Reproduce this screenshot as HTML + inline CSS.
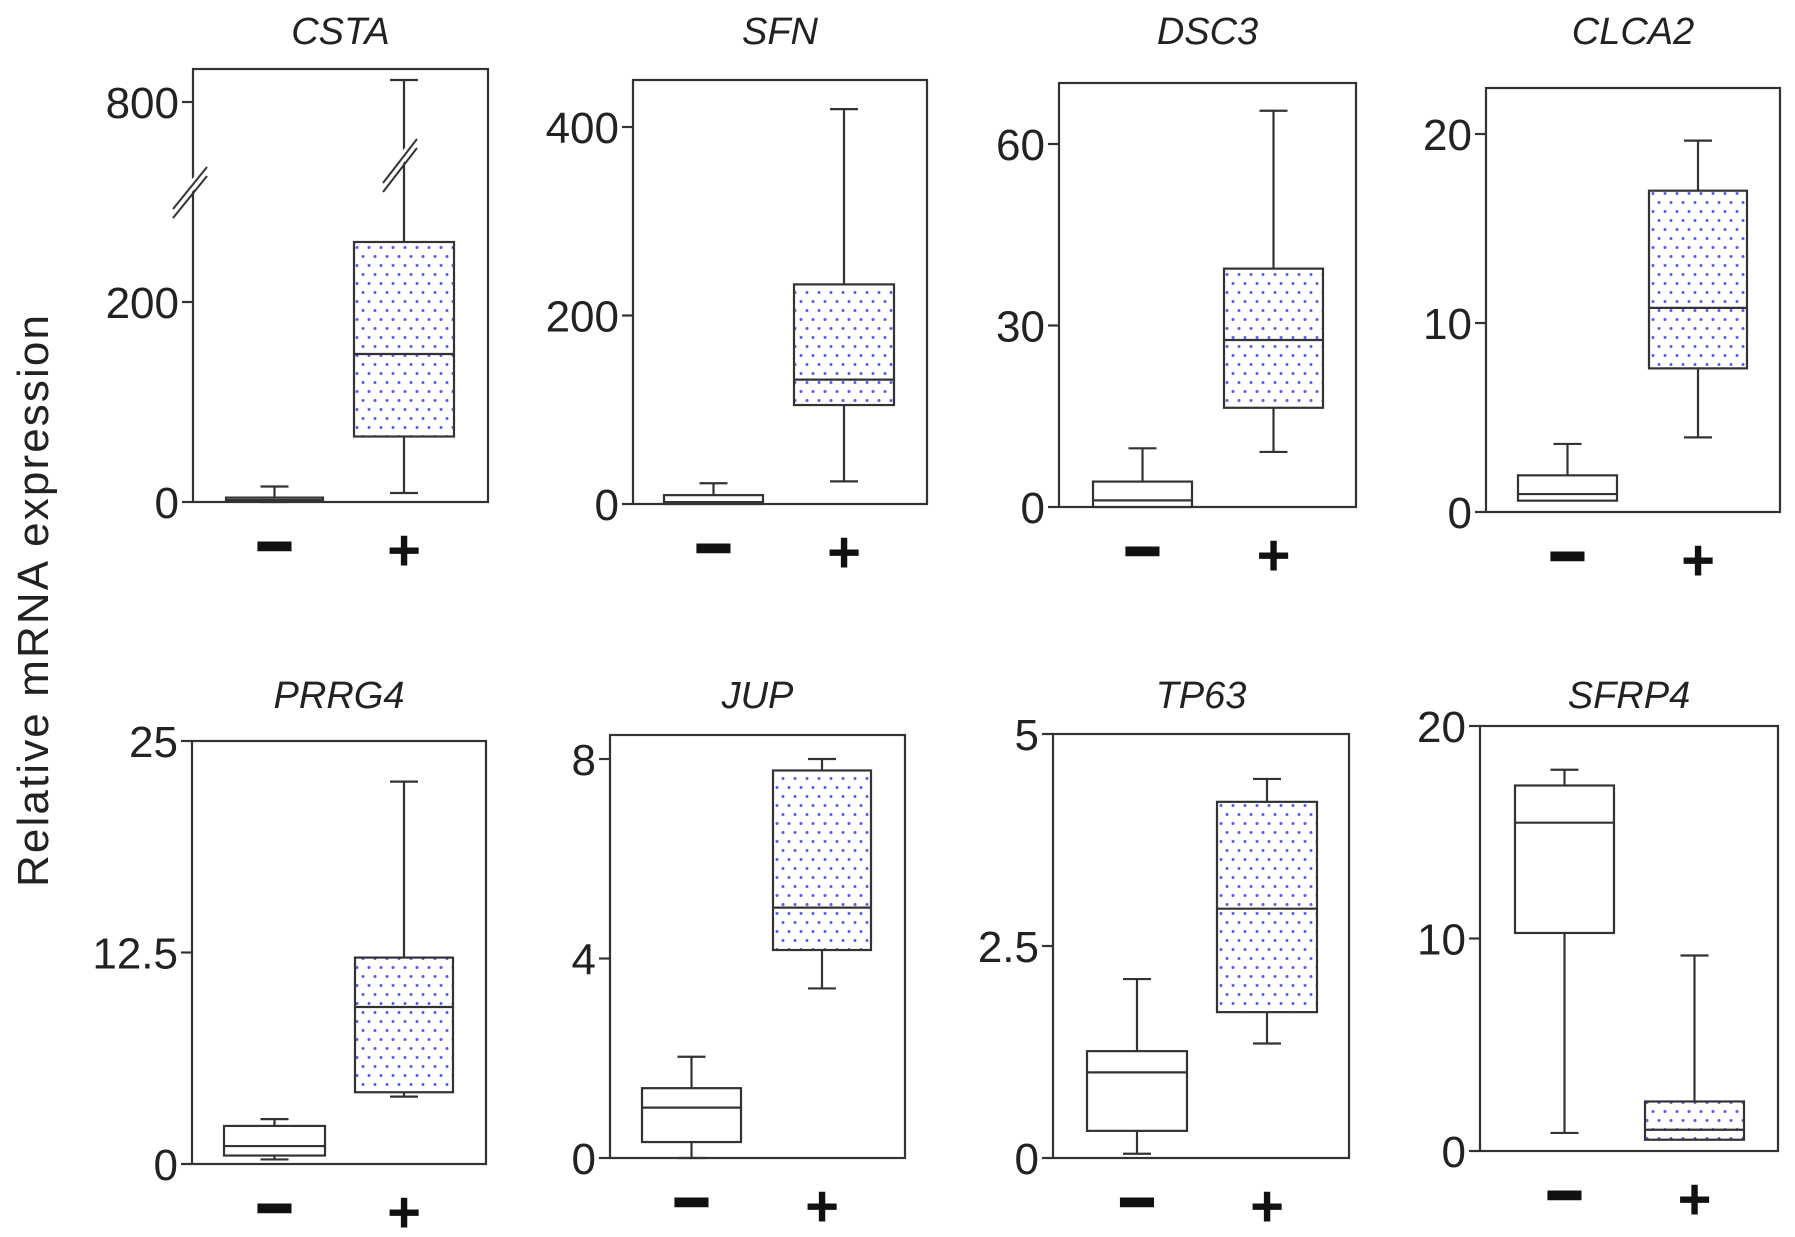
<!DOCTYPE html>
<html><head><meta charset="utf-8">
<style>
html,body{margin:0;padding:0;background:#fff;}
svg{display:block;font-family:"Liberation Sans",Arial,sans-serif;}
</style></head>
<body>
<svg id="chart" width="1795" height="1237" viewBox="0 0 1795 1237" xmlns="http://www.w3.org/2000/svg">
<defs>
<pattern id="dots" width="12" height="18" patternUnits="userSpaceOnUse">
<rect width="12" height="18" fill="#fff"/>
<circle cx="3" cy="4.5" r="1.5" fill="#5a5af0"/>
<circle cx="9" cy="13.5" r="1.5" fill="#5a5af0"/>
</pattern>
</defs>
<text transform="translate(48,601) rotate(-90)" text-anchor="middle" font-size="44" fill="#222" textLength="572">Relative mRNA expression</text>
<g id="panels"></g>
</svg>
<script>
const genes = ["CSTA","SFN","DSC3","CLCA2","PRRG4","JUP","TP63","SFRP4"];
const tickValues = [[0,200,800],[0,200,400],[0,30,60],[0,10,20],[0,12.5,25],[0,4,8],[0,2.5,5],[0,10,20]];
const tickLabels = [["0","200","800"],["0","200","400"],["0","30","60"],["0","10","20"],["0","12.5","25"],["0","4","8"],["0","2.5","5"],["0","10","20"]];
// [min, q1, median, q3, max]
const negStats = [
 [0,0.5,2,4.4,15.5],[0,0,2,9.4,22],[0,0,1.1,4.2,9.7],[0.6,0.6,0.95,1.94,3.6],
 [0.27,0.5,1.06,2.25,2.65],[0,0.32,1.01,1.40,2.03],[0.05,0.32,1.01,1.26,2.11],[0.85,10.26,15.45,17.2,17.94]];
const posStats = [
 [9,65.5,148,260,850],[24,105,132,233,419],[9.1,16.4,27.6,39.4,65.5],[3.95,7.6,10.8,17.0,19.65],
 [3.98,4.24,9.28,12.2,22.6],[3.40,4.17,5.02,7.77,8.0],[1.35,1.72,2.94,4.20,4.47],[0.53,0.53,1.0,2.33,9.2]];
const groupLabels = ["\u2212","+"];

// layout (pixels)
const layout = [
 {L:193,R:488,T:69,B:502,topY:102,c:[274.5,404],w:[97,100]},
 {L:633,R:927,T:80,B:504,topY:127,c:[713.5,844],w:[99,100]},
 {L:1059,R:1356,T:83,B:507,topY:144,c:[1142.5,1273.5],w:[99,99]},
 {L:1486,R:1780,T:88,B:512,topY:134,c:[1567.5,1698],w:[99,98]},
 {L:192,R:486,T:741,B:1164,topY:741,c:[274.5,404],w:[101,98]},
 {L:610,R:905,T:735,B:1158,topY:759,c:[691.5,822],w:[99,98]},
 {L:1053,R:1349,T:734,B:1158,topY:734,c:[1137,1267],w:[100,100]},
 {L:1480,R:1778,T:726,B:1151,topY:726,c:[1564.5,1694.5],w:[99,99]}
];
const titleY=[44,44,44,44,708,708,708,708];
const NS="http://www.w3.org/2000/svg";
const root=document.getElementById('panels');
function mk(tag,attrs,parent){const e=document.createElementNS(NS,tag);for(const k in attrs)e.setAttribute(k,attrs[k]);(parent||root).appendChild(e);return e;}
function yScale(i){
  const p=layout[i];
  if(i===0){
    const lowK=(p.B-302)/200;
    return v=> v<=300 ? p.B-v*lowK : p.topY-(v-800)*0.44;
  }
  const tv=tickValues[i][tickValues[i].length-1];
  return v=> p.B-v*(p.B-p.topY)/tv;
}
const st={stroke:"#333","stroke-width":2.2,fill:"none"};
genes.forEach((g,i)=>{
  const p=layout[i];const y=yScale(i);
  const grp=mk('g',{});
  
  
  const t=mk('text',{x:(p.L+p.R)/2,y:titleY[i],"text-anchor":"middle","font-size":38,"font-style":"italic",fill:"#222"},grp);
  t.textContent=g;
  
  
  const fr=mk('rect',Object.assign({x:p.L,y:p.T,width:p.R-p.L,height:p.B-p.T},st),grp);
  
  
  tickValues[i].forEach((v,k)=>{
    const yy=y(v);
    const tk=mk('line',Object.assign({x1:p.L-11,x2:p.L,y1:yy,y2:yy},st),grp);
    
    
    const lb=mk('text',{x:p.L-14,y:yy+16,"text-anchor":"end","font-size":44,fill:"#222"},grp);
    lb.textContent=tickLabels[i][k];
    
    
  });
  [negStats[i],posStats[i]].forEach((s,j)=>{
    const cx=p.c[j],w=p.w[j];
    const bg=mk('g',{},grp);
    
    
    const cap=14;
    if(s[4]>s[3]){mk('line',Object.assign({x1:cx,x2:cx,y1:y(s[3]),y2:y(s[4])},st),bg);mk('line',Object.assign({x1:cx-cap,x2:cx+cap,y1:y(s[4]),y2:y(s[4])},st),bg);}
    if(s[0]<s[1]){mk('line',Object.assign({x1:cx,x2:cx,y1:y(s[1]),y2:y(s[0])},st),bg);mk('line',Object.assign({x1:cx-cap,x2:cx+cap,y1:y(s[0]),y2:y(s[0])},st),bg);}
    mk('rect',{x:cx-w/2,y:y(s[3]),width:w,height:Math.max(1,y(s[1])-y(s[3])),fill:j?"url(#dots)":"#fff",stroke:"#333","stroke-width":2.2},bg);
    mk('line',Object.assign({x1:cx-w/2,x2:cx+w/2,y1:y(s[2]),y2:y(s[2])},st),bg);
    const gl=mk('text',{x:cx,y:p.B+(j?68:65),"text-anchor":"middle","font-size":j?58:62,"font-weight":"bold",fill:"#111",stroke:j?"none":"#111","stroke-width":j?0:3},grp);
    gl.textContent=groupLabels[j];
    
    
  });
  if(i===0){
    // axis breaks
    [[173,218,207,176],[383,192,417,148]].forEach(b=>{
      const bk=mk('g',{},grp);
      
      
      mk('line',{x1:b[0]-4,y1:b[1]-4,x2:b[2]-4,y2:b[3]-4,stroke:"#fff","stroke-width":8},bk);
      mk('line',{x1:b[0],y1:b[1]-9,x2:b[2],y2:b[3]-9,stroke:"#333","stroke-width":2},bk);
      mk('line',{x1:b[0],y1:b[1],x2:b[2],y2:b[3],stroke:"#333","stroke-width":2},bk);
    });
  }
});
</script>
</body></html>
